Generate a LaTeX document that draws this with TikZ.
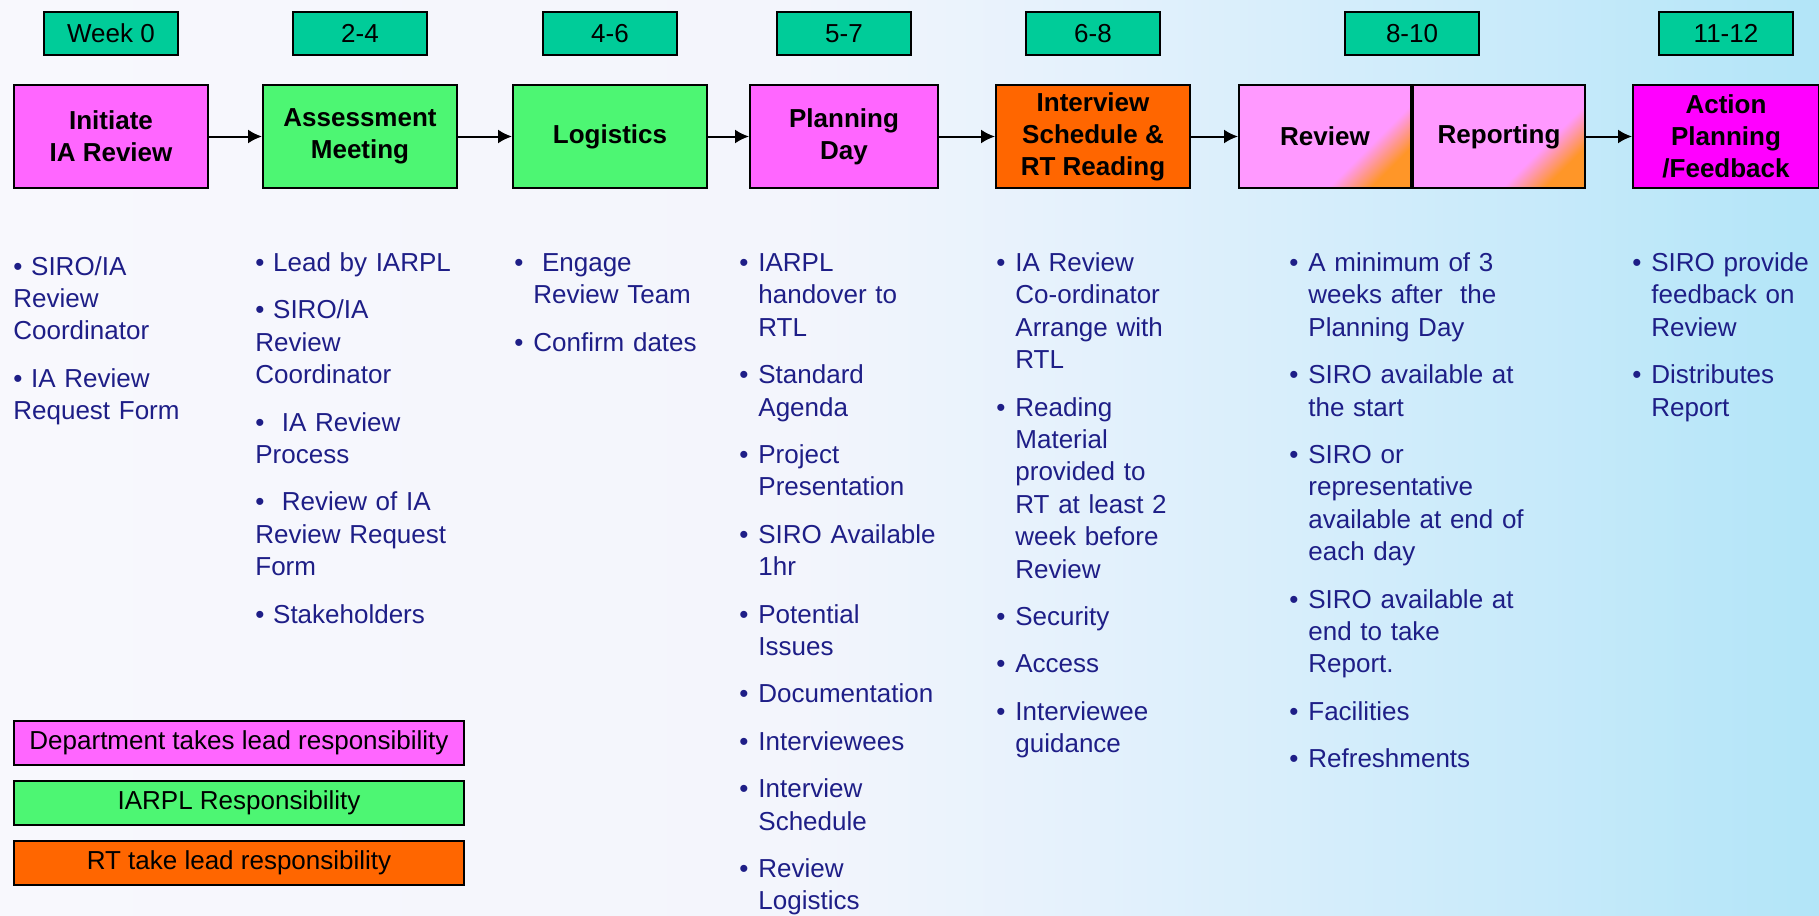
\documentclass[tikz,border=0pt]{standalone}
\usepackage{fontspec}
\setmainfont{Liberation Sans}
\usetikzlibrary{positioning,arrows.meta}

\definecolor{weekgreen}{RGB}{0,204,153}
\definecolor{deptpink}{RGB}{255,102,255}
\definecolor{iarplgreen}{RGB}{77,246,115}
\definecolor{rtorange}{RGB}{255,102,0}
\definecolor{revpink}{RGB}{255,153,255}
\definecolor{revorange}{RGB}{255,150,40}
\definecolor{actmagenta}{RGB}{255,0,255}
\definecolor{navy}{RGB}{30,30,135}
\definecolor{bgA}{RGB}{248,248,253}
\definecolor{bgB}{RGB}{243,245,252}
\definecolor{bgC}{RGB}{228,241,252}
\definecolor{bgD}{RGB}{200,234,250}
\definecolor{bgE}{RGB}{178,229,248}

\pgfdeclarehorizontalshading{backdrop}{100bp}{color(0bp)=(bgA); color(25bp)=(bgA);
  color(47bp)=(bgB); color(55bp)=(bgC); color(67bp)=(bgD); color(75bp)=(bgE); color(100bp)=(bgE)}
\pgfdeclarehorizontalshading{pinkorange}{100bp}{color(0bp)=(revpink); color(64bp)=(revpink);
  color(75bp)=(revorange); color(100bp)=(revorange)}

% bullet items: flat ones and ones with a hanging indent
\newcommand{\dotitem}[1]{\textbullet\ #1\par\vspace{7.5pt}}
\newcommand{\hangitem}[1]{\hangindent=9.5pt\hangafter=1\makebox[9.5pt][l]{\textbullet}#1\par\vspace{7.5pt}}

\begin{document}
\begin{tikzpicture}[x=0.5pt, y=-0.5pt,
  node distance=14pt and 25pt,
  stage/.style={draw, line width=1pt, minimum width=97pt, minimum height=51.5pt,
    inner sep=0pt, align=center, font=\bfseries\fontsize{13pt}{16pt}\selectfont},
  week/.style={draw, line width=1pt, fill=weekgreen, minimum width=67pt,
    minimum height=21.5pt, inner sep=0pt, font=\fontsize{13pt}{16pt}\selectfont},
  key/.style={draw, line width=1pt, minimum width=225pt, minimum height=22pt,
    inner sep=0pt, font=\fontsize{13pt}{16pt}\selectfont},
  notes/.style={anchor=base west, inner sep=0pt, text width=135pt, align=left,
    text=navy, font=\fontsize{13pt}{16.2pt}\selectfont},
  flow/.style={-{Latex[length=7pt,width=7pt]}, line width=1pt},
]
\shade[shading=backdrop] (0,0) rectangle (1819,915);
\useasboundingbox (0,0) rectangle (1819,915);

% stages
\node[stage, fill=deptpink] (init) at (111,136.5) {Initiate\\IA Review};
\node[stage, fill=iarplgreen, right=26.5pt of init] (assess) {Assessment\\Meeting};
\node[stage, fill=iarplgreen, right=27pt of assess] (logi) {Logistics};
\node[stage, fill=deptpink, minimum width=94pt, right=20.5pt of logi] (plan) {Planning\\Day};
\node[stage, fill=rtorange, right=28pt of plan] (interv) {Interview\\Schedule \&\\RT Reading};
\node[stage, shade, shading=pinkorange, shading angle=-45, minimum width=86pt, right=23.5pt of interv] (rev) {Review};
\node[stage, shade, shading=pinkorange, shading angle=-45, minimum width=86pt, right=0pt of rev] (rep) {Reporting};
\node[stage, fill=actmagenta, minimum width=93pt, right=23pt of rep] (act) {Action\\Planning\\/Feedback};

% weeks
\node[week, above=of init] (w0) {Week 0};
\node[week, above=of assess] (w1) {2-4};
\node[week, above=of logi] (w2) {4-6};
\node[week, above=of plan] (w3) {5-7};
\node[week, above=of interv] (w4) {6-8};
\node[week, above=of rev.north east] (w5) {8-10};
\node[week, above=of act] (w6) {11-12};

\draw[flow] (init) -- (assess);
\draw[flow] (assess) -- (logi);
\draw[flow] (logi) -- (plan);
\draw[flow] (plan) -- (interv);
\draw[flow] (interv) -- (rev);
\draw[flow] (rep) -- (act);

% notes under each stage
\node[notes] (n1) at (13,275) {\dotitem{SIRO/IA\newline Review\newline Coordinator}%
  \dotitem{IA Review\newline Request Form}};
\node[notes] (n2) at (255,271.5) {\dotitem{Lead by IARPL}%
  \dotitem{SIRO/IA\newline Review\newline Coordinator}%
  \dotitem{\ IA Review\newline Process}%
  \dotitem{\ Review of IA\newline Review Request\newline Form}%
  \dotitem{Stakeholders}};
\node[notes] (n3) at (514,271.5) {\hangitem{\ Engage\newline Review Team}%
  \hangitem{Confirm dates}};
\node[notes] (n4) at (739,271.5) {\hangitem{IARPL\newline handover to\newline RTL}%
  \hangitem{Standard\newline Agenda}%
  \hangitem{Project\newline Presentation}%
  \hangitem{SIRO Available\newline 1hr}%
  \hangitem{Potential\newline Issues}%
  \hangitem{Documentation}%
  \hangitem{Interviewees}%
  \hangitem{Interview\newline Schedule}%
  \hangitem{Review\newline Logistics}};
\node[notes] (n5) at (996,271.5) {\hangitem{IA Review\newline Co-ordinator\newline Arrange with\newline RTL}%
  \hangitem{Reading\newline Material\newline provided to\newline RT at least 2\newline week before\newline Review}%
  \hangitem{Security}%
  \hangitem{Access}%
  \hangitem{Interviewee\newline guidance}};
\node[notes] (n6) at (1289,271.5) {\hangitem{A minimum of 3\newline weeks after\ \ the\newline Planning Day}%
  \hangitem{SIRO available at\newline the start}%
  \hangitem{SIRO or\newline representative\newline available at end of\newline each day}%
  \hangitem{SIRO available at\newline end to take\newline Report.}%
  \hangitem{Facilities}%
  \hangitem{Refreshments}};
\node[notes] (n7) at (1632,271.5) {\hangitem{SIRO provide\newline feedback on\newline Review}%
  \hangitem{Distributes\newline Report}};

% key
\node[key, fill=deptpink] (k1) at (239,742.5) {Department takes lead responsibility};
\node[key, fill=iarplgreen, below=7pt of k1] (k2) {IARPL Responsibility};
\node[key, fill=rtorange, below=7pt of k2] (k3) {RT take lead responsibility};
\end{tikzpicture}
\end{document}
